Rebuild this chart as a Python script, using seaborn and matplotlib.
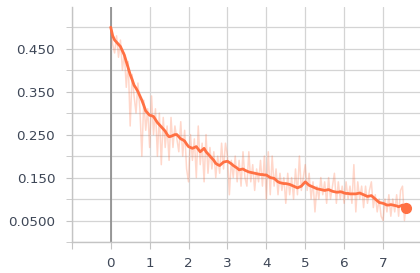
import numpy as np
import pandas as pd
import matplotlib
matplotlib.use("Agg")
import matplotlib.pyplot as plt
import seaborn as sns
from matplotlib.ticker import FixedLocator, FixedFormatter

# ---- data ----
steps = [round(i * 0.05, 2) for i in range(153)]  # 0.00 .. 7.60

smooth = [
    0.500, 0.480, 0.470, 0.465, 0.460, 0.455, 0.445, 0.435, 0.420, 0.405,
    0.390, 0.378, 0.365, 0.358, 0.350, 0.340, 0.330, 0.318, 0.305, 0.300,
    0.295, 0.294, 0.292, 0.285, 0.278, 0.273, 0.268, 0.263, 0.258, 0.250,
    0.245, 0.246, 0.248, 0.250, 0.250, 0.245, 0.240, 0.238, 0.235, 0.228,
    0.222, 0.220, 0.218, 0.220, 0.222, 0.216, 0.210, 0.214, 0.218, 0.210,
    0.205, 0.200, 0.195, 0.190, 0.183, 0.180, 0.178, 0.182, 0.186, 0.187,
    0.188, 0.185, 0.182, 0.178, 0.175, 0.172, 0.168, 0.169, 0.170, 0.167,
    0.165, 0.163, 0.162, 0.161, 0.160, 0.159, 0.158, 0.157, 0.157, 0.156,
    0.156, 0.153, 0.150, 0.149, 0.148, 0.144, 0.140, 0.138, 0.137, 0.136,
    0.136, 0.135, 0.134, 0.132, 0.130, 0.128, 0.126, 0.128, 0.130, 0.135,
    0.140, 0.136, 0.132, 0.130, 0.128, 0.126, 0.124, 0.123, 0.122, 0.121,
    0.120, 0.121, 0.122, 0.120, 0.118, 0.117, 0.116, 0.116, 0.117, 0.116,
    0.114, 0.113, 0.113, 0.112, 0.112, 0.112, 0.112, 0.113, 0.114, 0.112,
    0.110, 0.108, 0.106, 0.107, 0.108, 0.104, 0.100, 0.096, 0.092, 0.091,
    0.090, 0.088, 0.086, 0.086, 0.087, 0.086, 0.085, 0.084, 0.082, 0.084,
    0.086, 0.083, 0.080,
]

raw = [
    0.50, 0.46, 0.44, 0.48, 0.43, 0.47, 0.40, 0.44, 0.36, 0.42,
    0.27, 0.39, 0.34, 0.30, 0.37, 0.31, 0.20, 0.33, 0.26, 0.31,
    0.22, 0.34, 0.25, 0.31, 0.20, 0.30, 0.18, 0.29, 0.22, 0.27,
    0.19, 0.29, 0.22, 0.27, 0.24, 0.21, 0.28, 0.20, 0.26, 0.17,
    0.14, 0.25, 0.19, 0.24, 0.15, 0.27, 0.18, 0.23, 0.14, 0.25,
    0.16, 0.22, 0.17, 0.21, 0.15, 0.20, 0.16, 0.23, 0.17, 0.23,
    0.20, 0.11, 0.19, 0.15, 0.20, 0.14, 0.19, 0.13, 0.21, 0.15,
    0.13, 0.21, 0.14, 0.18, 0.12, 0.17, 0.14, 0.19, 0.13, 0.20,
    0.10, 0.21, 0.11, 0.20, 0.13, 0.17, 0.11, 0.16, 0.12, 0.15,
    0.09, 0.16, 0.11, 0.15, 0.10, 0.17, 0.11, 0.20, 0.12, 0.15,
    0.18, 0.12, 0.16, 0.10, 0.14, 0.07, 0.13, 0.10, 0.15, 0.11,
    0.14, 0.09, 0.15, 0.10, 0.13, 0.16, 0.09, 0.14, 0.10, 0.13,
    0.09, 0.14, 0.10, 0.13, 0.09, 0.18, 0.07, 0.14, 0.10, 0.13,
    0.08, 0.13, 0.09, 0.12, 0.14, 0.08, 0.11, 0.07, 0.10, 0.06,
    0.05, 0.10, 0.07, 0.11, 0.06, 0.10, 0.07, 0.11, 0.06, 0.12,
    0.13, 0.05, 0.09,
]

y_label_vals = [0.05, 0.15, 0.25, 0.35, 0.45]
y_label_text = ["0.0500", "0.150", "0.250", "0.350", "0.450"]
y_minor_vals = [0.0, 0.1, 0.2, 0.3, 0.4, 0.5]
x_tick_vals = [-1, 0, 1, 2, 3, 4, 5, 6, 7]
x_tick_text = ["", "0", "1", "2", "3", "4", "5", "6", "7"]

df = pd.DataFrame({"step": steps, "raw": raw, "smooth": smooth})

sns.set_style("white")
plt.rcParams["font.family"] = ["DejaVu Sans"]

fig = plt.figure(figsize=(4.2, 2.73), dpi=100)
ax = fig.add_axes([0.171, 0.1136, 0.829, 0.86])

color = "#ff7043"
sns.lineplot(data=df, x="step", y="raw", ax=ax, color=color, alpha=0.28, lw=1.1, zorder=3)
sns.lineplot(data=df, x="step", y="smooth", ax=ax, color=color, lw=2.0, zorder=4)
ax.plot([steps[-1]], [smooth[-1]], "o", color=color, ms=7, zorder=5)

ax.set_xlim(-1, 7.95)
ax.set_ylim(0, 0.5465)

ax.yaxis.set_major_locator(FixedLocator(y_label_vals))
ax.yaxis.set_major_formatter(FixedFormatter(y_label_text))
ax.yaxis.set_minor_locator(FixedLocator(y_minor_vals))
ax.xaxis.set_major_locator(FixedLocator(x_tick_vals))
ax.xaxis.set_major_formatter(FixedFormatter(x_tick_text))

ax.grid(True, which="both", axis="y", color="#d4d4d4", lw=0.9)
ax.grid(True, which="major", axis="x", color="#d4d4d4", lw=0.9)
ax.axvline(0, color="#8a8a8a", lw=1.2, zorder=2)

for s in ["top", "right"]:
    ax.spines[s].set_visible(False)
for s in ["left", "bottom"]:
    ax.spines[s].set_color("#c4c4c4")
    ax.spines[s].set_linewidth(1.0)

ax.tick_params(axis="y", which="both", length=4, color="#c4c4c4", pad=8,
               labelsize=9.7, labelcolor="#3e4757", left=True)
ax.tick_params(axis="x", which="major", length=5, color="#c4c4c4", pad=6,
               labelsize=9.7, labelcolor="#3e4757", bottom=True)
ax.set_xlabel("")
ax.set_ylabel("")

fig.savefig("out.png", dpi=100)
